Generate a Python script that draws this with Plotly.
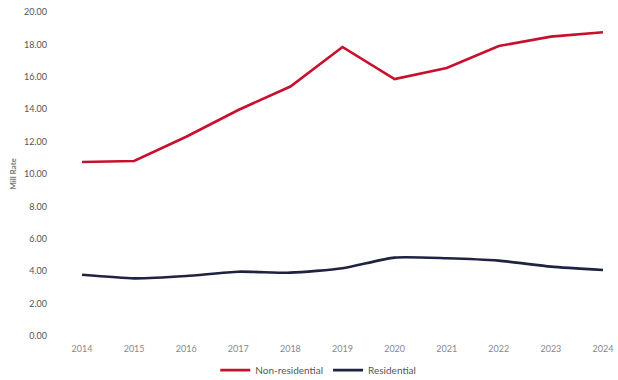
import plotly.graph_objects as go

years = [2014, 2015, 2016, 2017, 2018, 2019, 2020, 2021, 2022, 2023, 2024]
year_labels = ["2014", "2015", "2016", "2017", "2018", "2019", "2020", "2021", "2022", "2023", "2024"]
non_residential = [10.74, 10.80, 12.30, 13.95, 15.40, 17.84, 15.86, 16.54, 17.90, 18.48, 18.75]
residential = [3.78, 3.56, 3.70, 3.97, 3.91, 4.18, 4.84, 4.80, 4.65, 4.28, 4.07]
y_ticks = [0, 2, 4, 6, 8, 10, 12, 14, 16, 18, 20]

fig = go.Figure()
fig.add_trace(go.Scatter(
    x=years, y=non_residential, name="Non-residential", mode="lines",
    line=dict(color="#c8102e", width=2.6),
))
fig.add_trace(go.Scatter(
    x=years, y=residential, name="Residential", mode="lines",
    line=dict(color="#1f2240", width=2.6, shape="spline", smoothing=0.6),
))

fig.update_layout(
    width=618, height=380,
    margin=dict(l=69, r=2, t=12, b=44, autoexpand=False),
    paper_bgcolor="white", plot_bgcolor="white",
    font=dict(family="Lato, Open Sans, sans-serif", size=9, color="#666"),
    showlegend=True,
    legend=dict(
        orientation="h", xref="container", yref="container",
        x=0.515, xanchor="center", y=0.026, yanchor="middle",
        font=dict(size=10, color="#555"), traceorder="normal",
    ),
)
fig.update_xaxes(
    range=[2013.75, 2024.25], tickvals=years, ticktext=year_labels,
    tickangle=0, showgrid=False, zeroline=False, showline=False, ticks="",
    tickfont=dict(size=9, color="#888"), ticklabelstandoff=6,
)
fig.update_yaxes(
    range=[0, 20], tickvals=y_ticks, tickformat=".2f",
    showgrid=False, zeroline=False, showline=False, ticks="",
    tickfont=dict(size=9, color="#555"), ticklabelstandoff=21,
    title=dict(text="<b>Mill Rate</b>", font=dict(size=8, color="#777"), standoff=6),
)
for tr in fig.data:
    tr.cliponaxis = False

fig.write_html("out.html")
